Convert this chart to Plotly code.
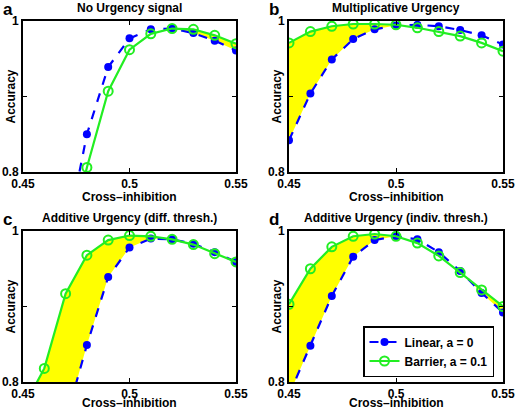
import plotly.graph_objects as go

# ---- data ----
cross_inhibition = [0.45, 0.46, 0.47, 0.48, 0.49, 0.50, 0.51, 0.52, 0.53, 0.54, 0.55]

panel_titles = ["No Urgency signal", "Multiplicative Urgency",
                "Additive Urgency (diff. thresh.)", "Additive Urgency (indiv. thresh.)"]
panel_letters = ["a", "b", "c", "d"]

# None = not visible / off chart
linear_a = [None, None, 0.707, 0.850, 0.939, 0.977, 0.989, 0.990, 0.984, 0.974, 0.961]
barrier_a = [None, None, 0.686, 0.806, 0.907, 0.962, 0.983, 0.990, 0.989, 0.981, 0.970]

linear_b = [0.842, 0.904, 0.949, 0.976, 0.989, 0.994, 0.995, 0.993, 0.988, 0.981, 0.969]
barrier_b = [0.971, 0.986, 0.993, 0.996, 0.996, 0.995, 0.991, 0.986, 0.980, 0.971, 0.960]

linear_c = [None, None, 0.749, 0.849, 0.939, 0.978, 0.990, 0.989, 0.983, 0.972, 0.959]
barrier_c = [0.765, 0.818, 0.917, 0.968, 0.988, 0.994, 0.993, 0.989, 0.982, 0.970, 0.959]

linear_d = [0.783, 0.848, 0.914, 0.966, 0.988, 0.993, 0.989, 0.972, 0.947, 0.918, 0.892]
barrier_d = [0.903, 0.950, 0.979, 0.993, 0.996, 0.993, 0.984, 0.967, 0.945, 0.922, 0.900]

series_linear = [linear_a, linear_b, linear_c, linear_d]
series_barrier = [barrier_a, barrier_b, barrier_c, barrier_d]

x_ticks = [0.45, 0.5, 0.55]
x_ticktext = ["0.45", "0.5", "0.55"]
y_ticks = [0.8, 0.9, 1.0]
y_ticktext = ["0.8", "", "1"]

legend_names = ["Linear, a = 0", "Barrier, a = 0.1"]

# ---- layout geometry (pixels) ----
W, H = 516, 410
boxes = [  # left, right, top, bottom
    (23, 236, 21, 172),
    (289, 503, 21, 172),
    (23, 236, 231, 382),
    (289, 503, 231, 382),
]
xlabel_offsets = [25, 25, 21, 21]

def px(x):
    return x / W

def py(y):
    return 1 - y / H

BLUE = "#0000FF"
GREEN = "#22EE22"
YELLOW = "#FFFF00"
FONT = "Liberation Sans"


def fill_polygon(xs, lin, bar):
    # region where barrier > linear, between the two curves
    pts = [(x, l, b) for x, l, b in zip(xs, lin, bar)]
    up, lo = [], []
    for i in range(len(pts)):
        x, l, b = pts[i]
        if l is None:
            l = 0.0
        if b is None:
            b = 0.0
        up.append((x, max(l, b)))
        lo.append((x, l))
        if i + 1 < len(pts):
            x2, l2, b2 = pts[i + 1]
            l2 = 0.0 if l2 is None else l2
            b2 = 0.0 if b2 is None else b2
            d1, d2 = b - l, b2 - l2
            if d1 * d2 < 0:
                t = d1 / (d1 - d2)
                xc = x + t * (x2 - x)
                yc = l + t * (l2 - l)
                up.append((xc, yc))
                lo.append((xc, yc))
    poly = up + lo[::-1]
    return [p[0] for p in poly], [p[1] for p in poly]


fig = go.Figure()
annotations = []

for k in range(4):
    ax = "" if k == 0 else str(k + 1)
    xref, yref = "x" + ax, "y" + ax
    lin = series_linear[k]
    bar = series_barrier[k]
    # fill
    fx, fy = fill_polygon(cross_inhibition, lin, bar)
    fig.add_trace(go.Scatter(x=fx, y=fy, fill="toself", fillcolor=YELLOW,
                             mode="lines", line=dict(width=0, color=YELLOW),
                             showlegend=False, hoverinfo="skip",
                             xaxis=xref, yaxis=yref))
    fig.add_trace(go.Scatter(x=cross_inhibition, y=lin, mode="lines+markers",
                             name=legend_names[0], showlegend=(k == 3),
                             line=dict(color=BLUE, width=2.2, dash="dash"),
                             marker=dict(color=BLUE, size=8, symbol="circle"),
                             xaxis=xref, yaxis=yref))
    fig.add_trace(go.Scatter(x=cross_inhibition, y=bar, mode="lines+markers",
                             name=legend_names[1], showlegend=(k == 3),
                             line=dict(color=GREEN, width=2.2),
                             marker=dict(color=GREEN, size=9, symbol="circle-open",
                                         line=dict(color=GREEN, width=2)),
                             xaxis=xref, yaxis=yref))

    l, r, t, b = boxes[k]
    axis_common = dict(showline=True, linecolor="black", linewidth=2, mirror="ticks",
                       ticks="inside", ticklen=4, tickwidth=1, tickcolor="black",
                       showgrid=False, zeroline=False, automargin=False,
                       tickfont=dict(family=FONT, size=12, color="black", weight="bold"))
    fig.layout["xaxis" + ax] = dict(domain=[px(l), px(r)], range=[0.45, 0.55],
                                    tickvals=x_ticks, ticktext=x_ticktext,
                                    anchor=yref, **axis_common)
    fig.layout["yaxis" + ax] = dict(domain=[py(b), py(t)], range=[0.8, 1.0],
                                    tickvals=y_ticks, ticktext=y_ticktext,
                                    anchor=xref, **axis_common)

    cx = (l + r) / 2
    # title
    annotations.append(dict(text="<b>" + panel_titles[k] + "</b>", x=px(cx), y=py(t - 13),
                            xref="paper", yref="paper", showarrow=False,
                            xanchor="center", yanchor="middle",
                            font=dict(family=FONT, size=12, color="black")))
    # panel letter
    annotations.append(dict(text="<b>" + panel_letters[k] + "</b>", x=px(l - 22), y=py(t - 12),
                            xref="paper", yref="paper", showarrow=False,
                            xanchor="left", yanchor="middle",
                            font=dict(family=FONT, size=17, color="black")))
    # x axis title
    annotations.append(dict(text="<b>Cross\u2013inhibition</b>", x=px(cx),
                            y=py(b + xlabel_offsets[k]),
                            xref="paper", yref="paper", showarrow=False,
                            xanchor="center", yanchor="middle",
                            font=dict(family=FONT, size=12, color="black")))
    # y axis title
    annotations.append(dict(text="<b>Accuracy</b>", x=px(l - 13), y=py((t + b) / 2),
                            xref="paper", yref="paper", showarrow=False, textangle=-90,
                            xanchor="center", yanchor="middle",
                            font=dict(family=FONT, size=12, color="black")))

fig.update_layout(
    width=W, height=H,
    margin=dict(l=0, r=0, t=0, b=0),
    paper_bgcolor="white", plot_bgcolor="white",
    annotations=annotations,
    showlegend=True,
    legend=dict(x=px(363), y=py(326), xanchor="left", yanchor="top",
                bgcolor="white", bordercolor="black", borderwidth=1.5,
                font=dict(family=FONT, size=12, color="black", weight="bold"),
                tracegroupgap=0, itemwidth=30),
)

fig.write_html("out.html", config={"displayModeBar": False},
               post_script="document.body.style.margin='0';document.body.style.padding='0';")
